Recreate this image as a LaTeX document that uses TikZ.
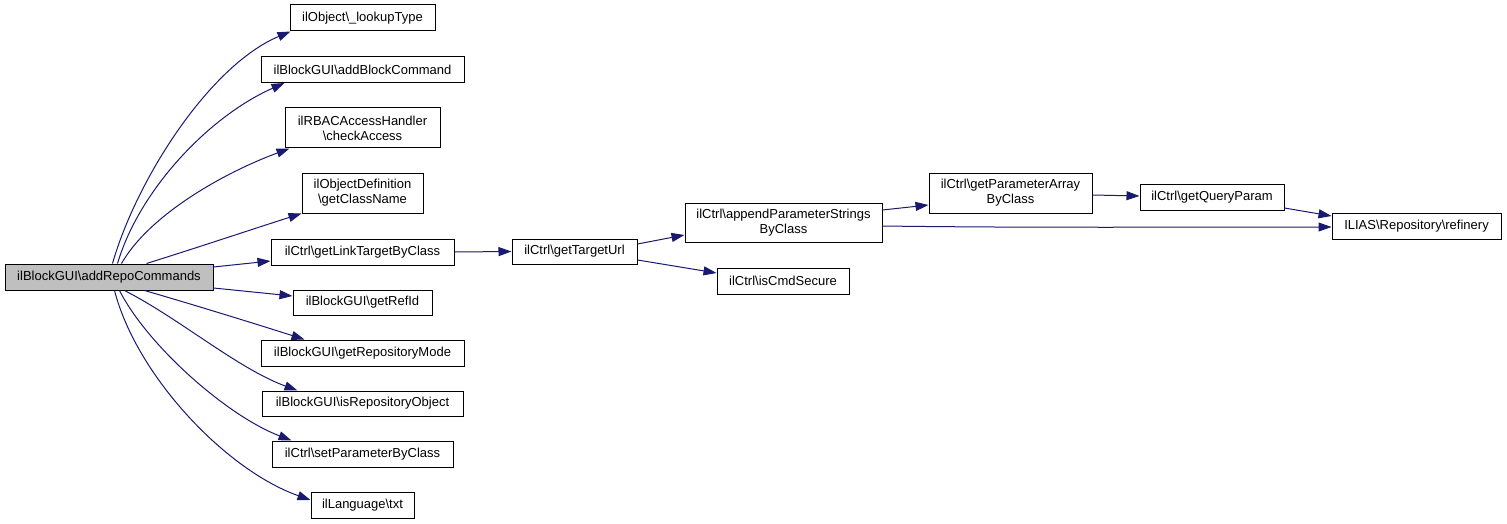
\documentclass[tikz,border=0pt]{standalone}
\usepackage{fontspec}
\setmainfont{Liberation Sans}
\usetikzlibrary{arrows.meta}
\definecolor{edgeblue}{HTML}{191970}
\definecolor{mainfill}{HTML}{BFBFBF}
\tikzset{
  fbox/.style={draw=black, line width=1pt, fill=white, inner sep=0pt, align=center,
    font=\fontsize{13}{15}\selectfont},
  mainbox/.style={fbox, fill=mainfill},
  conn/.style={draw=edgeblue, line width=1pt, -{Triangle[length=13pt,width=9pt]}},
}
\begin{document}
\begin{tikzpicture}[x=1pt,y=-1pt]
\useasboundingbox (0,0) rectangle (1507,524);
\node[mainbox, minimum width=208pt, minimum height=26pt] (main) at (109,277) {ilBlockGUI\textbackslash addRepoCommands};
\node[fbox, minimum width=145pt, minimum height=26pt] (lookup) at (362.5,18) {ilObject\textbackslash \_lookupType};
\node[fbox, minimum width=203pt, minimum height=26pt] (addblock) at (362.5,69.5) {ilBlockGUI\textbackslash addBlockCommand};
\node[fbox, minimum width=155pt, minimum height=40pt] (check) at (362.5,128) {ilRBACAccessHandler\\\textbackslash checkAccess};
\node[fbox, minimum width=121pt, minimum height=40pt] (classname) at (362.5,193) {ilObjectDefinition\\\textbackslash getClassName};
\node[fbox, minimum width=183pt, minimum height=26pt] (linktarget) at (362.5,252) {ilCtrl\textbackslash getLinkTargetByClass};
\node[fbox, minimum width=139pt, minimum height=25pt] (refid) at (362.5,302.5) {ilBlockGUI\textbackslash getRefId};
\node[fbox, minimum width=203pt, minimum height=26pt] (repomode) at (362.5,353) {ilBlockGUI\textbackslash getRepositoryMode};
\node[fbox, minimum width=201pt, minimum height=25pt] (repoobj) at (362.5,403.5) {ilBlockGUI\textbackslash isRepositoryObject};
\node[fbox, minimum width=181pt, minimum height=26pt] (setparam) at (362.5,454) {ilCtrl\textbackslash setParameterByClass};
\node[fbox, minimum width=103pt, minimum height=26pt] (txt) at (362.5,505) {ilLanguage\textbackslash txt};
\node[fbox, minimum width=125pt, minimum height=25pt] (targeturl) at (574.5,251.5) {ilCtrl\textbackslash getTargetUrl};
\node[fbox, minimum width=197pt, minimum height=39pt] (append) at (783.5,222.5) {ilCtrl\textbackslash appendParameterStrings\\ByClass};
\node[fbox, minimum width=132pt, minimum height=26pt] (cmdsecure) at (783,281) {ilCtrl\textbackslash isCmdSecure};
\node[fbox, minimum width=163pt, minimum height=40pt] (paramarray) at (1010.5,193) {ilCtrl\textbackslash getParameterArray\\ByClass};
\node[fbox, minimum width=144pt, minimum height=26pt] (queryparam) at (1212,197) {ilCtrl\textbackslash getQueryParam};
\node[fbox, minimum width=169pt, minimum height=26pt] (refinery) at (1416.5,226) {ILIAS\textbackslash Repository\textbackslash refinery};
% edges from main, upward
\draw[conn] ([xshift=108pt]main.north west) .. controls +(24,-84) and +(-81,34) .. ([xshift=1pt]lookup.south west);
\draw[conn] ([xshift=113pt]main.north west) .. controls +(22,-74) and +(-75,33) .. ([xshift=24pt]addblock.south west);
\draw[conn] ([xshift=117pt]main.north west) .. controls +(28,-49) and +(-65,24) .. ([xshift=5pt]check.south west);
\draw[conn] ([xshift=142pt]main.north west) .. controls +(45,-14) and +(-50,16) .. (classname.south west);
\draw[conn] ([yshift=10pt]main.east) -- ([yshift=-9pt]linktarget.west);
\draw[conn] ([yshift=-11pt]main.east) -- ([yshift=6.5pt]refid.west);
% edges from main, downward
\draw[conn] ([xshift=140pt]main.south west) .. controls +(45,13) and +(-50,-16) .. ([xshift=44pt]repomode.north west);
\draw[conn] ([xshift=120pt]main.south west) .. controls +(55,28) and +(-60,-22) .. ([xshift=36pt]repoobj.north west);
\draw[conn] ([xshift=115pt]main.south west) .. controls +(28,55) and +(-65,-25) .. ([xshift=20pt]setparam.north west);
\draw[conn] ([xshift=110pt]main.south west) .. controls +(22,85) and +(-85,-30) .. ([yshift=5pt]txt.west);
% right part
\draw[conn] (linktarget.east) -- (targeturl.west);
\draw[conn] ([yshift=7.5pt]targeturl.east) -- ([yshift=-12.5pt]append.west);
\draw[conn] ([yshift=-8.5pt]targeturl.east) -- ([yshift=8pt]cmdsecure.west);
\draw[conn] ([yshift=12.5pt]append.east) -- ([yshift=-12pt]paramarray.west);
\draw[conn] ([yshift=-3.5pt]append.east) .. controls +(150,2) and +(-150,0) .. ([yshift=-1pt]refinery.west);
\draw[conn] ([yshift=-2pt]paramarray.east) -- ([yshift=1pt]queryparam.west);
\draw[conn] ([yshift=-11pt]queryparam.east) -- ([yshift=10pt]refinery.west);
\end{tikzpicture}
\end{document}
